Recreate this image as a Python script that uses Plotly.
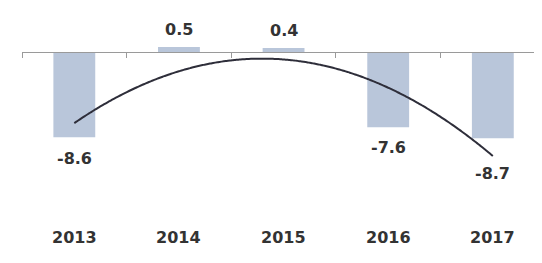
import numpy as np
import plotly.graph_objects as go

years = ["2013", "2014", "2015", "2016", "2017"]
values = [-8.6, 0.5, 0.4, -7.6, -8.7]
labels = ["-8.6", "0.5", "0.4", "-7.6", "-8.7"]

# Polynomial (order 2) trend line fitted to the values
xi = np.arange(len(values))
coef = np.polyfit(xi, values, 2)
xs = np.linspace(0, len(values) - 1, 200)
ys = np.polyval(coef, xs)

ymin, ymax = -17.27, 4.44
zero_frac = (0 - ymin) / (ymax - ymin)

fig = go.Figure()
fig.add_trace(go.Bar(x=xi, y=values, width=0.4, marker=dict(color="#b9c6da", line=dict(width=0)),
                     hoverinfo="skip"))
fig.add_trace(go.Scatter(x=xs, y=ys, mode="lines", line=dict(color="#2e2e3a", width=2, shape="spline"),
                         hoverinfo="skip"))

shifts = [-21, 18, 18, -20, -35]
font = dict(family="DejaVu Sans, Verdana", size=16, color="#333333")
for i, (v, t) in enumerate(zip(values, labels)):
    fig.add_annotation(x=i, y=v, text="<b>%s</b>" % t, showarrow=False,
                       yanchor="middle", yshift=shifts[i], font=font)
for i, yr in enumerate(years):
    fig.add_annotation(x=i, y=0, yref="paper", text="<b>%s</b>" % yr, showarrow=False,
                       yanchor="middle", yshift=-14, font=font)

fig.update_layout(
    width=534, height=255,
    margin=dict(l=14, r=0, t=0, b=40),
    paper_bgcolor="white", plot_bgcolor="white",
    showlegend=False,
    xaxis=dict(range=[-0.5, 4.47], anchor="free", position=zero_frac,
               showline=True, linecolor="#9a9a9a", linewidth=1,
               tickvals=[-0.5, 0.5, 1.5, 2.5, 3.5], ticks="outside", ticklen=5,
               tickcolor="#9a9a9a", showticklabels=False, showgrid=False, zeroline=False),
    yaxis=dict(range=[ymin, ymax], visible=False, showgrid=False, zeroline=False),
)
fig.write_html("out.html")
